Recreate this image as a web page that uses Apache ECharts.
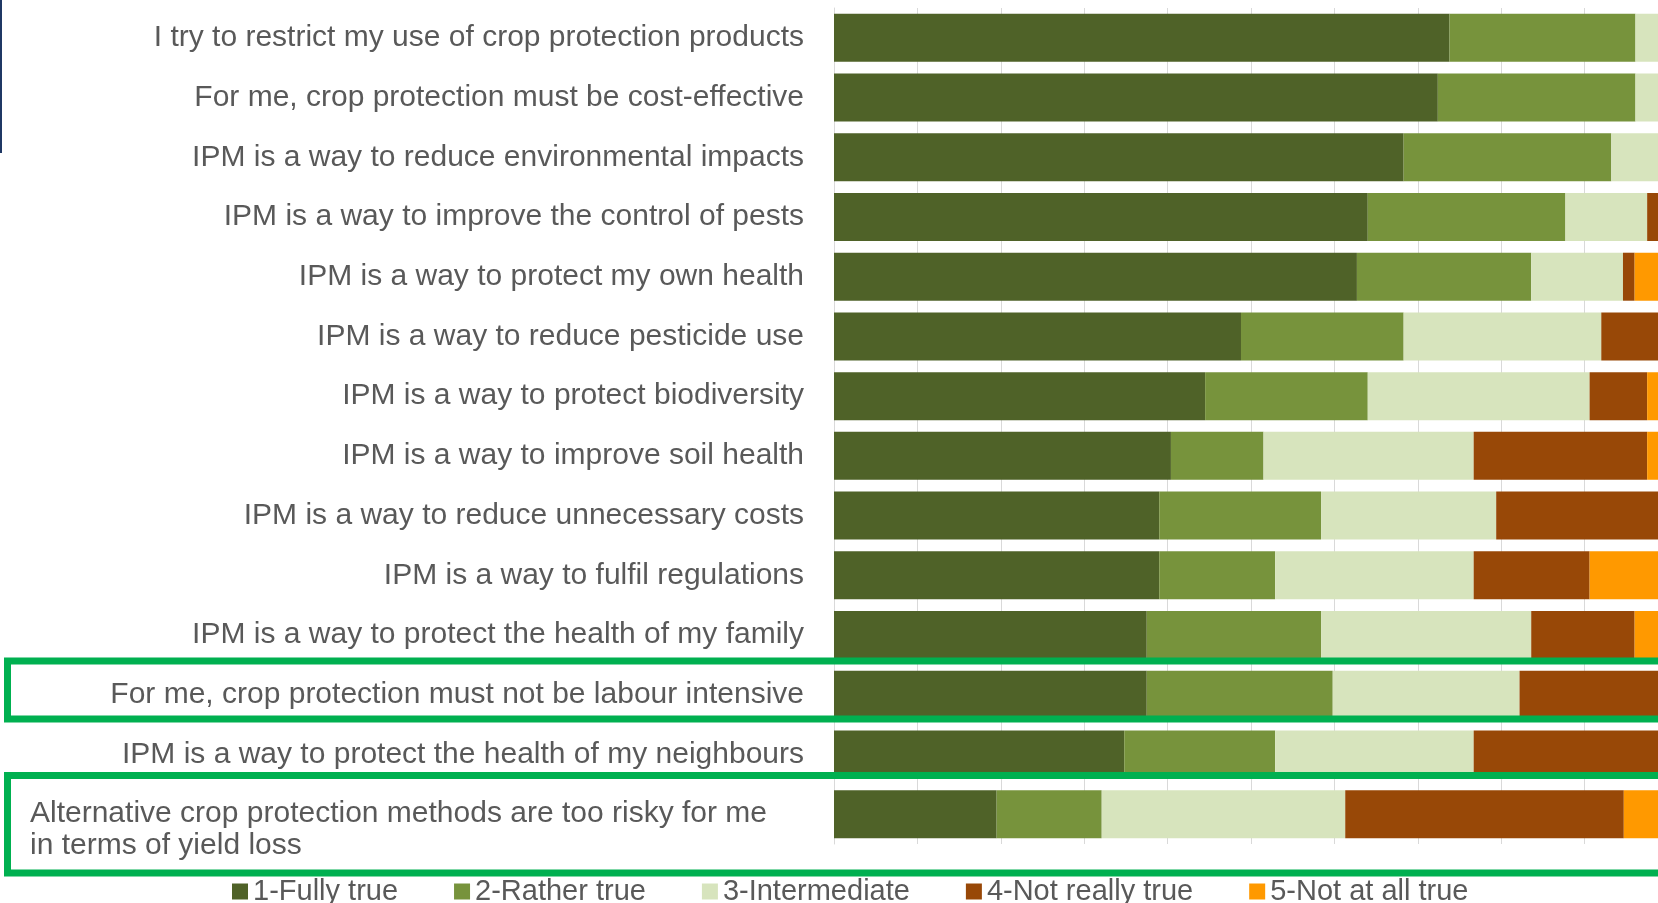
<!DOCTYPE html>
<html>
<head>
<meta charset="utf-8">
<title>Crop protection attitudes</title>
<script src="https://cdn.jsdelivr.net/npm/echarts@6/dist/echarts.min.js"></script>
<style>
  html, body { margin: 0; padding: 0; background: #fff; overflow: hidden; }
  /* plot runs slightly past the window edge, like the cropped original */
  #chart { width: 1700px; height: 903px; }
</style>
</head>
<body>
<div id="chart"></div>
<script>
const categories = [
  'I try to restrict my use of crop protection products',
  'For me, crop protection must be cost-effective',
  'IPM is a way to reduce environmental impacts',
  'IPM is a way to improve the control of pests',
  'IPM is a way to protect my own health',
  'IPM is a way to reduce pesticide use',
  'IPM is a way to protect biodiversity',
  'IPM is a way to improve soil health',
  'IPM is a way to reduce unnecessary costs',
  'IPM is a way to fulfil regulations',
  'IPM is a way to protect the health of my family',
  'For me, crop protection must not be labour intensive',
  'IPM is a way to protect the health of my neighbours',
  'Alternative crop protection methods are too risky for me\nin terms of yield loss'
]

const seriesNames = ['1-Fully true', '2-Rather true', '3-Intermediate', '4-Not really true', '5-Not at all true']

// share of answers, %
const fullyTrue   = [73.8, 72.4, 68.3, 64.0, 62.7, 48.8, 44.5, 40.4, 39.0, 39.0, 37.5, 37.5, 34.8, 19.5]
const ratherTrue  = [22.3, 23.7, 24.9, 23.7, 20.9, 19.5, 19.5, 11.1, 19.4, 13.9, 20.9, 22.3, 18.1, 12.6]
const intermediate = [3.9, 3.9, 6.8, 9.8, 11.0, 23.7, 26.6, 25.2, 21.0, 23.8, 25.2, 22.4, 23.8, 29.2]
const notReally   = [0, 0, 0, 2.5, 1.4, 8.0, 6.9, 20.8, 20.6, 13.9, 12.4, 17.8, 23.3, 33.4]
const notAtAll    = [0, 0, 0, 0, 4.0, 0, 2.5, 2.5, 0, 9.4, 4.0, 0, 0, 5.3]

const colors = ['#4f6228', '#77933c', '#d7e4bd', '#984807', '#ff9900']
const FONT = 'Liberation Sans'
const TEXT = '#595959'

// the two-line label is left aligned in the original, so it is drawn separately
const isWrapped = (v) => v.indexOf('\n') >= 0

const chart = echarts.init(document.getElementById('chart'))

const getOption = () => {
  const values = [fullyTrue, ratherTrue, intermediate, notReally, notAtAll]
  return {
    animation: false,
    textStyle: { fontFamily: FONT },
    grid: {
      left: 834,
      width: 834,
      top: 8,
      height: 836,
      containLabel: false,
      outerBoundsMode: 'none'
    },
    legend: {
      left: 227,
      top: 872,
      icon: 'rect',
      itemWidth: 16,
      itemHeight: 16,
      itemGap: 56,
      textStyle: { fontSize: 29, color: TEXT, fontFamily: FONT },
      data: seriesNames
    },
    xAxis: {
      type: 'value',
      min: 0,
      max: 100,
      interval: 10,
      axisLabel: { show: false },
      axisLine: { show: false },
      axisTick: { show: false },
      splitLine: { lineStyle: { color: '#d9d9d9', width: 1 } }
    },
    yAxis: {
      type: 'category',
      inverse: true,
      data: categories,
      axisLine: { show: true, lineStyle: { color: '#d9d9d9' } },
      axisTick: { show: false },
      axisLabel: {
        margin: 30,
        fontSize: 30,
        color: TEXT,
        fontFamily: FONT,
        formatter: (v) => (isWrapped(v) ? '' : v)
      }
    },
    series: seriesNames.map((name, i) => ({
      name,
      type: 'bar',
      stack: 'total',
      barWidth: 48,
      itemStyle: { color: colors[i] },
      data: values[i]
    }))
  }
}

const getGraphics = () => {
  const marks = [
    {
      id: 'edge',
      type: 'line',
      shape: { x1: 1, y1: 0, x2: 1, y2: 153 },
      style: { stroke: '#1f3864', lineWidth: 2 },
      z: 100
    },
    {
      id: 'box-labour',
      type: 'rect',
      shape: { x: 7.5, y: 661, width: 1700, height: 58 },
      style: { fill: 'none', stroke: '#00b050', lineWidth: 7 },
      z: 100
    },
    {
      id: 'box-risk',
      type: 'rect',
      shape: { x: 7.5, y: 775.5, width: 1700, height: 97.5 },
      style: { fill: 'none', stroke: '#00b050', lineWidth: 7 },
      z: 100
    }
  ]
  // wrapped label: first line on the bar's centre, second one below it
  categories.filter(isWrapped).forEach((cat, i) => {
    const y = chart.convertToPixel({ yAxisIndex: 0 }, cat)
    marks.push({
      id: 'wrapped-label-' + i,
      type: 'text',
      x: 30,
      y: y - 16,
      z: 100,
      style: {
        text: cat,
        fontSize: 30,
        fontFamily: FONT,
        fill: TEXT,
        lineHeight: 32,
        verticalAlign: 'top'
      }
    })
  })
  return marks
}

chart.setOption(getOption())
chart.setOption({ graphic: getGraphics() })

window.addEventListener('resize', () => chart.resize())
</script>
</body>
</html>
